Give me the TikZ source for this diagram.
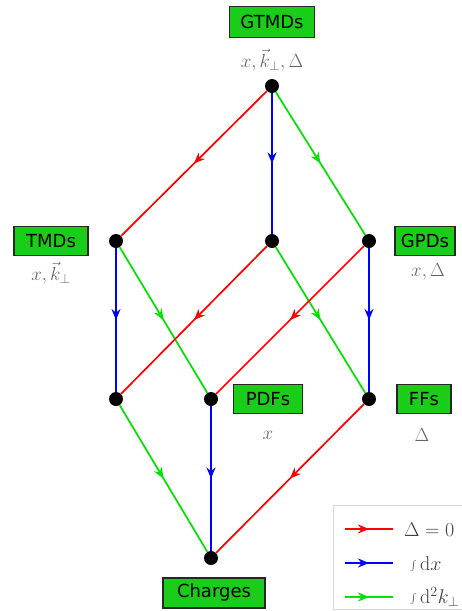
\RequirePackage{fix-cm}
\documentclass[tikz,border=0pt]{standalone}
\usepackage{fontspec}
\usetikzlibrary{decorations.markings,arrows.meta}
\newfontfamily\boxfont{DejaVu Sans}
\definecolor{boxgreen}{RGB}{25,205,25}
\definecolor{lred}{RGB}{255,0,0}
\definecolor{lblue}{RGB}{0,0,255}
\definecolor{lgreen}{RGB}{0,225,0}
\tikzset{
  flow/.style={line width=1.7pt, postaction={decorate},
    decoration={markings, mark=at position 0.5 with {\arrow{Stealth[length=11pt,width=9pt]}}}},
  dot/.style={circle, fill=black, inner sep=0pt, minimum size=14pt},
  lbl/.style={draw=black!85, line width=1.3pt, fill=boxgreen, text=black,
    font=\boxfont\fontsize{18}{20}\selectfont, inner sep=0pt, minimum height=29pt},
  var/.style={text=black!60, font=\fontsize{19}{22}\selectfont, inner sep=0pt},
  legtxt/.style={text=black!75, font=\fontsize{20}{23}\selectfont, anchor=west, inner sep=0pt}
}
\begin{document}
\begin{tikzpicture}[x=1pt,y=-1pt]
\useasboundingbox (0,0) rectangle (462,611);
% dots
\node[dot] (g) at (272,86) {};
\node[dot] (t) at (116,241) {};
\node[dot] (m) at (272,241) {};
\node[dot] (p) at (369,241) {};
\node[dot] (l) at (116,399) {};
\node[dot] (f) at (211,399) {};
\node[dot] (ff) at (369,399) {};
\node[dot] (c) at (211,558) {};
% edges
\draw[flow, lred] (g) -- (t);
\draw[flow, lblue] (g) -- (m);
\draw[flow, lgreen] (g) -- (p);
\draw[flow, lblue] (t) -- (l);
\draw[flow, lgreen] (t) -- (f);
\draw[flow, lred] (m) -- (l);
\draw[flow, lgreen] (m) -- (ff);
\draw[flow, lred] (p) -- (f);
\draw[flow, lblue] (p) -- (ff);
\draw[flow, lgreen] (l) -- (c);
\draw[flow, lblue] (f) -- (c);
\draw[flow, lred] (ff) -- (c);
% labels
\node[lbl, minimum width=85pt, minimum height=31pt] (gl) at (272,22) {GTMDs};
\node[var] (gv) at (272,60) {$x,\vec{k}_\perp,\Delta$};
\node[lbl, minimum width=74pt] (tl) at (51,241) {TMDs};
\node[var] (tv) at (51,273) {$x,\vec{k}_\perp$};
\node[lbl, minimum width=60pt] (pl) at (425,241) {GPDs};
\node[var] (pv) at (428,272) {$x,\Delta$};
\node[lbl, minimum width=69pt] (fl) at (268,399) {PDFs};
\node[var] (fv) at (268,435) {$x$};
\node[lbl, minimum width=54pt] (ffl) at (424,399) {FFs};
\node[var] (ffv) at (422,435) {$\Delta$};
\node[lbl, minimum width=102pt, minimum height=30pt] (cl) at (214,593) {Charges};
% legend
\node[draw=black!15, line width=0.8pt, minimum width=130pt, minimum height=104pt, inner sep=0pt] (leg) at (398,557) {};
\coordinate (r1) at (345,529); \coordinate (r2) at (393,529);
\coordinate (b1) at (345,563); \coordinate (b2) at (393,563);
\coordinate (e1) at (345,597); \coordinate (e2) at (393,597);
\draw[flow, lred] (r1) -- (r2);
\draw[flow, lblue] (b1) -- (b2);
\draw[flow, lgreen] (e1) -- (e2);
\node[legtxt] (lt1) at (404,530) {$\Delta=0$};
\node[legtxt] (lt2) at (410,564) {$\int\mathrm{d}x$};
\node[legtxt] (lt3) at (410,597) {$\int\mathrm{d}^2k_\perp$};
\end{tikzpicture}
\end{document}
